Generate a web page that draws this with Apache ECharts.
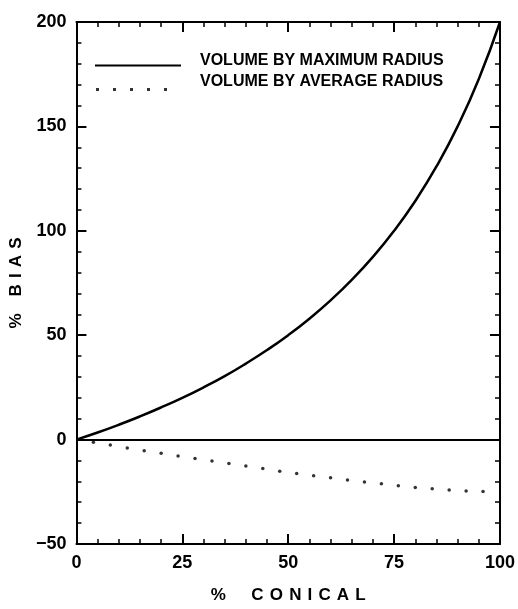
<!DOCTYPE html>
<html>
<head>
<meta charset="utf-8">
<script src="https://cdn.jsdelivr.net/npm/echarts@6/dist/echarts.min.js"></script>
<style>
html,body{margin:0;padding:0;background:#fff;}
#chart{width:518px;height:609px;}
</style>
</head>
<body>
<div id="chart"></div>
<script>
// Data
var maxX = [0,5,10,15,20,25,30,35,40,45,50,55,60,65,70,75,80,85,90,95,100];
var maxY = [0,3.4,7.1,11.1,15.4,20.0,25.0,30.4,36.4,42.9,50.0,57.9,66.7,76.5,87.5,100,114.3,130.8,150,172.7,200];
var avgX = [4,8,12,16,20,24,28,32,36,40,44,48,52,56,60,64,68,72,76,80,84,88,92,96];
var avgY = [-1.3,-2.6,-4.0,-5.3,-6.5,-7.8,-9.1,-10.3,-11.5,-12.7,-13.9,-15.1,-16.2,-17.3,-18.3,-19.3,-20.3,-21.2,-22.1,-22.9,-23.5,-24.1,-24.6,-24.9];
var xTicks = [0,25,50,75,100];
var yTicks = [-50,0,50,100,150,200];
var seriesNames = ['VOLUME BY MAXIMUM RADIUS','VOLUME BY AVERAGE RADIUS'];
var sp = ' \u200A';
var xName = '%\u2003\u2002' + ['C','O','N','I','C','A','L'].join(sp);
var yName = '%\u2003' + ['B','I','A','S'].join(sp);

var chart = echarts.init(document.getElementById('chart'));
var font = 'Liberation Sans, Arial, sans-serif';
var narrow = 'Liberation Sans Narrow, Arial Narrow, Liberation Sans, sans-serif';

function axisCommon(showLabel){
  return {
    axisLine:{show:true,onZero:false,lineStyle:{color:'#000',width:2}},
    axisTick:{show:true,inside:true,length:10,lineStyle:{color:'#000',width:2}},
    minorTick:{show:true,splitNumber:5,length:5,lineStyle:{color:'#000',width:1.5}},
    splitLine:{show:false},
    axisLabel:{show:showLabel,color:'#000',fontSize:18,fontWeight:'bold',fontFamily:font,margin:10,
      formatter:function(v){return String(v).replace('-','\u2212');}}
  };
}

var xb = Object.assign({type:'value',position:'bottom',min:xTicks[0],max:xTicks[xTicks.length-1],interval:25,
  name:xName,nameLocation:'middle',nameGap:43,
  nameTextStyle:{color:'#000',fontSize:17,fontWeight:'bold',fontFamily:font}}, axisCommon(true));
var xt = Object.assign({type:'value',position:'top',min:0,max:100,interval:25}, axisCommon(false));
var yl = Object.assign({type:'value',position:'left',min:yTicks[0],max:yTicks[yTicks.length-1],interval:50,
  name:yName,nameLocation:'middle',nameGap:51,nameRotate:90,
  nameTextStyle:{color:'#000',fontSize:17,fontWeight:'bold',fontFamily:font}}, axisCommon(true));
var yr = Object.assign({type:'value',position:'right',min:-50,max:200,interval:50}, axisCommon(false));

var option = {
  animation:false,
  backgroundColor:'#fff',
  grid:{left:75,right:17,top:22,bottom:64,containLabel:false},
  xAxis:[xb,xt],
  yAxis:[yl,yr],
  legend:[
    {data:[seriesNames[0]],left:95,top:53,padding:0,orient:'vertical',
     icon:'path://M0,0h0.01v0.01h-0.01z M0,9h86v2h-86z',itemWidth:86,itemHeight:11,
     textStyle:{color:'#000',fontSize:16,fontWeight:'bold',fontFamily:narrow,padding:[0,0,0,14]}},
    {data:[seriesNames[1]],left:96,top:72,padding:0,orient:'vertical',
     icon:'path://M0,0h0.01v0.01h-0.01z M0,16h3v3h-3z M17,16h3v3h-3z M34,16h3v3h-3z M51,16h3v3h-3z M68,16h3v3h-3z',
     itemWidth:71,itemHeight:19,
     textStyle:{color:'#000',fontSize:16,fontWeight:'bold',fontFamily:narrow,padding:[0,0,0,28]}}
  ],
  series:[
    {name:seriesNames[0],type:'line',xAxisIndex:0,yAxisIndex:0,smooth:true,showSymbol:false,
     data:maxX.map(function(x,i){return [x,maxY[i]];}),
     lineStyle:{color:'#000',width:2.5},itemStyle:{color:'#000'},
     markLine:{silent:true,symbol:['none','none'],label:{show:false},
       lineStyle:{color:'#000',width:2,type:'solid'},data:[{yAxis:0}]}},
    {name:seriesNames[1],type:'scatter',xAxisIndex:0,yAxisIndex:0,symbol:'circle',symbolSize:3.5,
     data:avgX.map(function(x,i){return [x,avgY[i]];}),
     itemStyle:{color:'#000'}}
  ]
};
chart.setOption(option);
</script>
</body>
</html>
